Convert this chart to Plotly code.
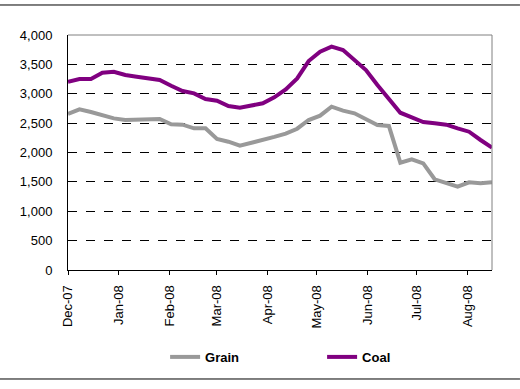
import plotly.graph_objects as go
import pandas as pd

dates = pd.date_range("2007-12-01", periods=38, freq="7D")
grain = [2655, 2735, 2689, 2638, 2581, 2553, 2558, 2570, 2570, 2479,
         2473, 2411, 2411, 2230, 2184, 2116, 2160, 2215, 2265, 2320,
         2405, 2553, 2627, 2780, 2712, 2667, 2565, 2468, 2451, 1826,
         1884, 1816, 1544, 1486, 1418, 1493, 1476, 1493]
coal = [3205, 3251, 3251, 3358, 3375, 3319, 3290, 3256, 3234, 3137,
        3047, 3007, 2910, 2882, 2791, 2762, 2796, 2837, 2939, 3075,
        3262, 3557, 3716, 3801, 3744, 3574, 3404, 3150, 2922, 2677,
        2599, 2519, 2497, 2473, 2411, 2354, 2213, 2082]
tick_dates = ["2007-12-01", "2008-01-01", "2008-02-01", "2008-03-01", "2008-04-01",
              "2008-05-01", "2008-06-01", "2008-07-01", "2008-08-01"]
tick_labels = ["Dec-07", "Jan-08", "Feb-08", "Mar-08", "Apr-08",
               "May-08", "Jun-08", "Jul-08", "Aug-08"]
y_ticks = [0, 500, 1000, 1500, 2000, 2500, 3000, 3500, 4000]

FONT = "Liberation Sans, Arial, sans-serif"

fig = go.Figure()
fig.add_trace(go.Scatter(x=dates, y=grain, name="Grain", mode="lines",
                         line=dict(color="#999999", width=4)))
fig.add_trace(go.Scatter(x=dates, y=coal, name="Coal", mode="lines",
                         line=dict(color="#800080", width=4)))

fig.update_layout(
    width=520, height=389,
    margin=dict(l=68, r=28, t=35, b=119),
    paper_bgcolor="white", plot_bgcolor="white",
    font=dict(family=FONT, size=13, color="black"),
    showlegend=True,
    legend=dict(orientation="h", x=0.229, xanchor="left", y=-0.37, yanchor="middle",
                font=dict(family=FONT, size=13, color="black", weight="bold"),
                entrywidth=112, entrywidthmode="pixels",
                bgcolor="rgba(0,0,0,0)"),
    xaxis=dict(type="date", range=[dates[0], dates[-1]],
               tickvals=tick_dates, ticktext=tick_labels, tickangle=-90,
               ticks="outside", ticklen=4, tickcolor="black",
               ticklabelstandoff=5,
               showline=True, linecolor="black", linewidth=1,
               showgrid=False, zeroline=False,
               tickfont=dict(family=FONT, size=13, color="black")),
    yaxis=dict(range=[0, 4000], tickvals=y_ticks, tickformat=",",
               showline=True, linecolor="black", linewidth=1,
               showgrid=True, gridcolor="black", griddash="dash", gridwidth=1,
               zeroline=False, ticks="", ticklabelstandoff=12,
               tickfont=dict(family=FONT, size=13, color="black")),
    shapes=[
        dict(type="line", xref="paper", yref="paper", x0=0, x1=1, y0=1, y1=1,
             line=dict(color="#808080", width=1), layer="above"),
        dict(type="line", xref="paper", yref="paper", x0=1, x1=1, y0=0, y1=1,
             line=dict(color="#808080", width=1), layer="above"),
        dict(type="line", xref="paper", yref="paper", x0=-0.1604, x1=1.066,
             y0=1.1277, y1=1.1277, line=dict(color="black", width=1)),
        dict(type="line", xref="paper", yref="paper", x0=-0.1604, x1=1.066,
             y0=-0.4638, y1=-0.4638, line=dict(color="black", width=1)),
    ],
)

fig.write_html("out.html", config={"displayModeBar": False},
               post_script="document.body.style.margin='0';document.body.style.overflow='hidden';")
